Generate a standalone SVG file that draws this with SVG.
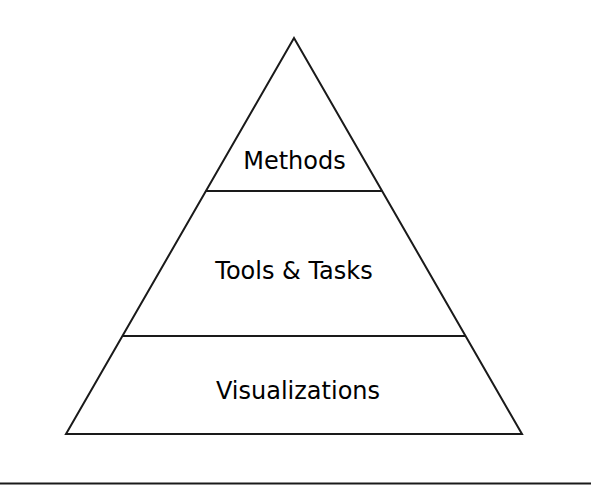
<svg xmlns="http://www.w3.org/2000/svg" width="591" height="485" viewBox="0 0 591 485">
<style>
.ln{stroke:#1a1a1a;stroke-width:2;fill:none;stroke-linejoin:miter}
.lb{font-family:"DejaVu Sans",Verdana,sans-serif;font-size:24px;fill:#000;text-anchor:middle}
</style>
<rect width="591" height="485" fill="#fff"/>
<g id="connectors">
<line class="ln" x1="0" y1="483.5" x2="591" y2="483.5"/>
</g>
<g id="pyramid">
<polygon class="ln" points="294,38 522,434 66,434"/>
</g>
<g id="methods">
<line class="ln" x1="206" y1="191" x2="382" y2="191"/>
<text class="lb" x="294.5" y="169">Methods</text>
</g>
<g id="tools-tasks">
<line class="ln" x1="123" y1="336" x2="466" y2="336"/>
<text class="lb" x="294" y="279">Tools &amp; Tasks</text>
</g>
<g id="visualizations">
<text class="lb" x="298" y="399">Visualizations</text>
</g>
</svg>
